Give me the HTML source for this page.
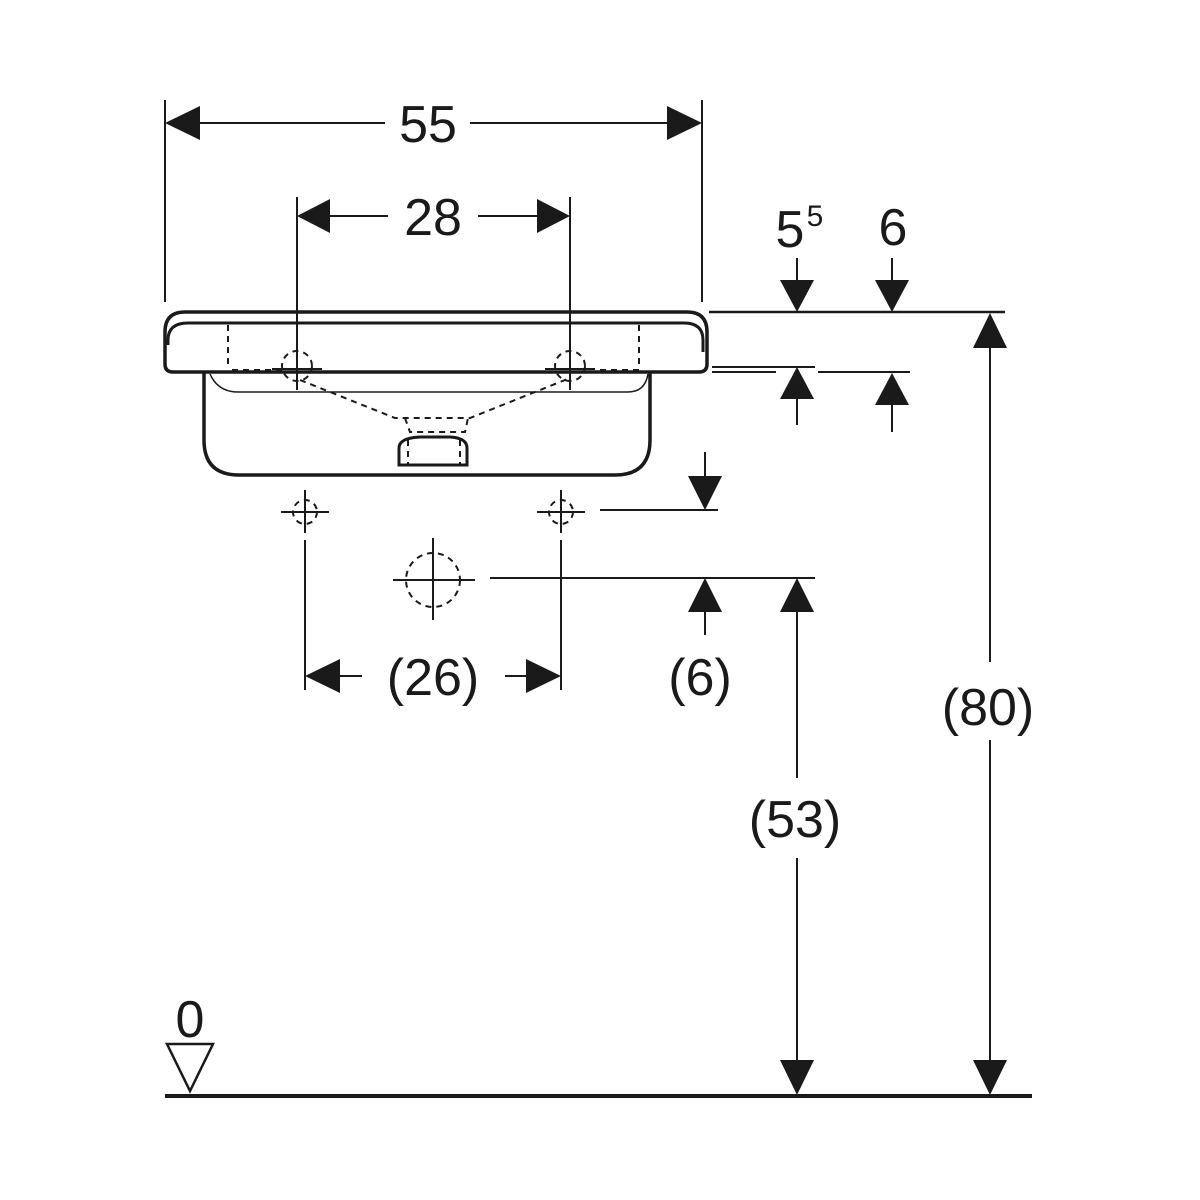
<!DOCTYPE html>
<html><head><meta charset="utf-8"><style>
html,body{margin:0;padding:0;background:#fff;width:1200px;height:1200px;overflow:hidden}
svg{display:block}
text{font-family:"Liberation Sans",Arial,sans-serif;font-size:52px;fill:#1a1a1a;text-anchor:middle}
</style></head><body>
<svg width="1200" height="1200" viewBox="0 0 1200 1200" xmlns="http://www.w3.org/2000/svg">
<g stroke="#1a1a1a" fill="none" stroke-width="2">
<line x1="165" y1="100" x2="165" y2="302"/>
<line x1="702" y1="100" x2="702" y2="302"/>
<line x1="195" y1="123" x2="385" y2="123"/>
<line x1="470" y1="123" x2="670" y2="123"/>
<line x1="297" y1="197" x2="297" y2="378"/>
<line x1="570" y1="197" x2="570" y2="378"/>
<line x1="325" y1="216" x2="388" y2="216"/>
<line x1="478" y1="216" x2="540" y2="216"/>
<path d="M185 312 H687 Q707 312 707 332 V364 Q707 372 699 372 H173 Q165 372 165 364 V332 Q165 312 185 312 Z" stroke-width="3.5"/>
<path d="M168 345 V340 Q168 323 188 323 H684 Q703 323 703 340 V352" stroke-width="3"/>
<path d="M204 372 V440 Q204 475 239 475 H615 Q650 475 650 440 V372" stroke-width="3.5"/>
<path d="M210 374 Q218 392 238 392 H628 Q645 392 648 374" stroke-width="1.5"/>
<path d="M399 465 V448 Q399 438 420 437 H450 Q467 438 467 448 V465 Z" stroke-width="3"/>
<line x1="709" y1="312" x2="1005" y2="312" stroke-width="2.5"/>
<line x1="712" y1="367" x2="815" y2="367"/>
<line x1="712" y1="372" x2="776" y2="372"/>
<line x1="818" y1="372" x2="910" y2="372"/>
</g>
<g stroke="#1a1a1a" fill="none" stroke-width="2" stroke-dasharray="6,5">
<line x1="228" y1="325" x2="228" y2="368"/>
<line x1="639" y1="325" x2="639" y2="368"/>
<line x1="232" y1="370" x2="285" y2="370"/>
<line x1="600" y1="370" x2="640" y2="370"/>
<path d="M300 380 L395 418 L470 418 L570 378"/>
<path d="M405 418 L410 432 L465 432 L468 418"/>
<line x1="408" y1="440" x2="408" y2="465"/>
<line x1="460" y1="440" x2="460" y2="465"/>
<circle cx="297" cy="366" r="15"/>
<circle cx="570" cy="366" r="15"/>
<circle cx="305" cy="512" r="12"/>
<circle cx="561" cy="512" r="12"/>
<circle cx="433" cy="580" r="27"/>
</g>
<g stroke="#1a1a1a" fill="none" stroke-width="2">
<line x1="272" y1="369" x2="322" y2="369"/><line x1="297" y1="352" x2="297" y2="390"/>
<line x1="545" y1="369" x2="595" y2="369"/><line x1="570" y1="352" x2="570" y2="390"/>
<line x1="281" y1="512" x2="329" y2="512"/><line x1="305" y1="490" x2="305" y2="533"/>
<line x1="537" y1="512" x2="585" y2="512"/><line x1="561" y1="490" x2="561" y2="533"/>
<line x1="393" y1="580" x2="475" y2="580"/><line x1="433" y1="538" x2="433" y2="620"/>
<line x1="305" y1="540" x2="305" y2="690"/>
<line x1="561" y1="540" x2="561" y2="690"/>
<line x1="340" y1="676" x2="362" y2="676"/>
<line x1="505" y1="676" x2="528" y2="676"/>
<line x1="600" y1="510" x2="718" y2="510"/>
<line x1="705" y1="452" x2="705" y2="478"/>
<line x1="490" y1="578" x2="815" y2="578"/>
<line x1="705" y1="610" x2="705" y2="635"/>
<line x1="797" y1="258" x2="797" y2="285"/>
<line x1="892" y1="258" x2="892" y2="285"/>
<line x1="797" y1="395" x2="797" y2="425"/>
<line x1="892" y1="400" x2="892" y2="432"/>
<line x1="990" y1="345" x2="990" y2="662"/>
<line x1="990" y1="740" x2="990" y2="1065"/>
<line x1="797" y1="610" x2="797" y2="778"/>
<line x1="797" y1="858" x2="797" y2="1065"/>
<line x1="165" y1="1096" x2="1032" y2="1096" stroke-width="4"/>
<path d="M167 1044 H213 L190 1091 Z" stroke-width="2.5"/>
</g>
<g fill="#1a1a1a">
<path d="M165 123 L200 106 L200 140 Z"/>
<path d="M702 123 L667 106 L667 140 Z"/>
<path d="M297 216 L330 199 L330 233 Z"/>
<path d="M570 216 L537 199 L537 233 Z"/>
<path d="M305 676 L340 659 L340 693 Z"/>
<path d="M561 676 L526 659 L526 693 Z"/>
<path d="M797 312 L780 280 L814 280 Z"/>
<path d="M892 312 L875 280 L909 280 Z"/>
<path d="M797 367 L780 399 L814 399 Z"/>
<path d="M892 373 L875 405 L909 405 Z"/>
<path d="M990 313 L973 348 L1007 348 Z"/>
<path d="M990 1095 L973 1060 L1007 1060 Z"/>
<path d="M797 578 L780 612 L814 612 Z"/>
<path d="M797 1095 L780 1060 L814 1060 Z"/>
<path d="M705 510 L688 476 L722 476 Z"/>
<path d="M705 578 L688 612 L722 612 Z"/>
</g>
<text x="428" y="142">55</text>
<text x="433" y="235">28</text>
<text x="790" y="247">5</text><text x="815" y="226" style="font-size:30px">5</text>
<text x="893" y="245">6</text>
<text x="433" y="695">(26)</text>
<text x="700" y="695">(6)</text>
<text x="988" y="725">(80)</text>
<text x="795" y="837">(53)</text>
<text x="190" y="1037">0</text>
</svg>
</body></html>
